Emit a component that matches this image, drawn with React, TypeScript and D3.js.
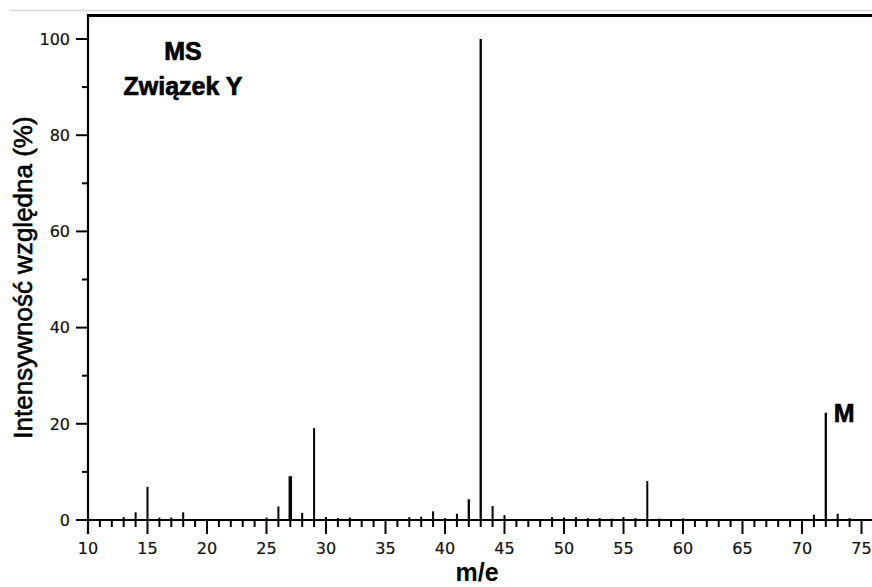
import React, { useRef, useEffect } from 'react';
import * as d3 from 'd3';

// widmo masowe
const mz = [13, 14, 15, 16, 17, 18, 25, 26, 27, 28, 29, 30, 31, 32, 37, 38, 39, 40, 41, 42, 43, 44, 45, 49, 50, 51, 52, 53, 54, 55, 56, 57, 58, 60, 71, 72, 73, 74];
const intensity = [0.6, 1.6, 6.9, 0.5, 0.5, 1.6, 0.5, 2.8, 9.1, 1.5, 19.1, 0.6, 0.4, 0.5, 0.6, 0.7, 1.8, 0.4, 1.3, 4.3, 100, 2.9, 1.0, 0.6, 0.5, 0.6, 0.4, 0.4, 0.3, 0.6, 0.4, 8.1, 0.3, 0.3, 1.1, 22.3, 1.3, 0.4];

const xTicks = [10, 15, 20, 25, 30, 35, 40, 45, 50, 55, 60, 65, 70, 75];
const yTicks = [0, 20, 40, 60, 80, 100];

const titleLines = ['MS', 'Związek Y'];
const peakLabel = { mz: 72, text: 'M' };
const xLabel = 'm/e';
const yLabel = 'Intensywność względna (%)';

const W = 872;
const H = 587;

export default function App() {
  const svgRef = useRef<SVGSVGElement>(null);

  useEffect(() => {
    const svg = d3.select(svgRef.current);
    svg.selectAll('*').remove();

    const x = d3.scaleLinear().domain([10, 76]).range([88, 88 + 66 * 11.9]);
    const y = d3.scaleLinear().domain([0, 100]).range([520, 39]);
    const y0 = y(0);

    // szara linia na samej górze
    svg.append('line')
      .attr('x1', 10).attr('x2', W)
      .attr('y1', 10.5).attr('y2', 10.5)
      .attr('stroke', '#d9d9d9').attr('stroke-width', 1.5);

    // górna krawędź ramki
    svg.append('line')
      .attr('x1', x(10) - 1).attr('x2', W)
      .attr('y1', 15.5).attr('y2', 15.5)
      .attr('stroke', '#000').attr('stroke-width', 3);

    // piki
    svg.append('g')
      .selectAll('line')
      .data(mz.map((m, i) => ({ m, v: intensity[i] })))
      .join('line')
      .attr('x1', (d) => x(d.m)).attr('x2', (d) => x(d.m))
      .attr('y1', y0).attr('y2', (d) => y(d.v))
      .attr('stroke', '#000')
      .attr('stroke-width', (d) => (d.m === 27 ? 3.5 : d.m === 43 || d.m === 72 || d.m === 42 ? 2.3 : 2));

    // oś X
    const gx = svg.append('g');
    gx.append('line')
      .attr('x1', x(10)).attr('x2', W)
      .attr('y1', y0).attr('y2', y0)
      .attr('stroke', '#000').attr('stroke-width', 2.2);
    gx.selectAll('line.tick')
      .data(d3.range(10, 76))
      .join('line')
      .attr('class', 'tick')
      .attr('x1', (d) => x(d)).attr('x2', (d) => x(d))
      .attr('y1', y0).attr('y2', (d) => y0 + (xTicks.includes(d) ? 14 : 7))
      .attr('stroke', '#000').attr('stroke-width', 2);
    gx.selectAll('text')
      .data(xTicks)
      .join('text')
      .attr('x', (d) => x(d)).attr('y', 554)
      .attr('text-anchor', 'middle')
      .attr('font-family', 'DejaVu Sans, Verdana, sans-serif')
      .attr('font-size', 16)
      .attr('fill', '#111')
      .attr('stroke', '#111').attr('stroke-width', 0.2)
      .text((d) => d);

    // oś Y
    const gy = svg.append('g');
    gy.append('line')
      .attr('x1', x(10)).attr('x2', x(10))
      .attr('y1', 14).attr('y2', y0 + 14)
      .attr('stroke', '#000').attr('stroke-width', 2.2);
    gy.selectAll('line.tick')
      .data(d3.range(0, 101, 10))
      .join('line')
      .attr('class', 'tick')
      .attr('x1', x(10)).attr('x2', (d) => x(10) - (yTicks.includes(d) ? 12 : 6))
      .attr('y1', (d) => y(d)).attr('y2', (d) => y(d))
      .attr('stroke', '#000').attr('stroke-width', 2);
    gy.selectAll('text')
      .data(yTicks)
      .join('text')
      .attr('x', 70).attr('y', (d) => y(d))
      .attr('dy', '0.36em')
      .attr('text-anchor', 'end')
      .attr('font-family', 'DejaVu Sans, Verdana, sans-serif')
      .attr('font-size', 16)
      .attr('fill', '#111')
      .attr('stroke', '#111').attr('stroke-width', 0.2)
      .text((d) => d);

    // podpisy
    const bold = 'Liberation Sans, Arial, sans-serif';
    svg.append('text')
      .attr('x', 477).attr('y', 581)
      .attr('text-anchor', 'middle')
      .attr('font-family', bold).attr('font-weight', 'bold')
      .attr('font-size', 25)
      .text(xLabel);

    svg.append('text')
      .attr('transform', `translate(32,${(y(0) + y(100)) / 2 - 2}) rotate(-90)`)
      .attr('text-anchor', 'middle')
      .attr('font-family', bold)
      .attr('font-size', 26)
      .attr('stroke', '#000').attr('stroke-width', 0.6)
      .text(yLabel);

    svg.selectAll('text.title')
      .data(titleLines)
      .join('text')
      .attr('class', 'title')
      .attr('x', 183).attr('y', (d, i) => 60 + i * 35)
      .attr('text-anchor', 'middle')
      .attr('font-family', bold).attr('font-weight', 'bold')
      .attr('font-size', 25)
      .attr('stroke', '#000').attr('stroke-width', 0.7)
      .text((d) => d);

    svg.append('text')
      .attr('x', x(peakLabel.mz) + 8).attr('y', 422)
      .attr('font-family', bold).attr('font-weight', 'bold')
      .attr('font-size', 25)
      .attr('stroke', '#000').attr('stroke-width', 0.6)
      .text(peakLabel.text);
  }, []);

  return (
    <svg
      ref={svgRef}
      width={W}
      height={H}
      style={{ position: 'absolute', left: 0, top: 0, background: '#fff' }}
      xmlns="http://www.w3.org/2000/svg"
    />
  );
}
